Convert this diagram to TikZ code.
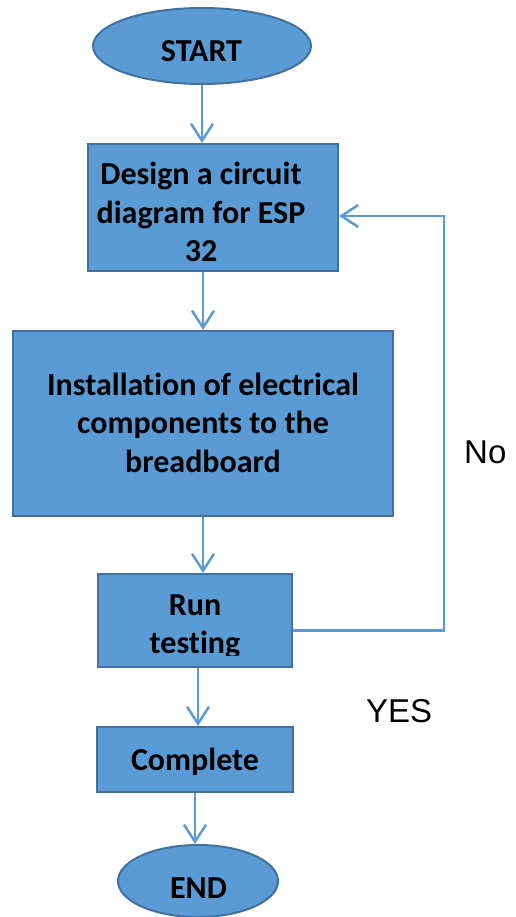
\documentclass[tikz,border=0pt]{standalone}
\usepackage{fontspec}
\setmainfont{Carlito}[Ligatures=CommonOff]
\newfontfamily\arialfont{Liberation Sans}
\usetikzlibrary{shapes.geometric,arrows.meta}
\definecolor{boxfill}{HTML}{5B9BD5}
\definecolor{boxline}{HTML}{41719C}
\definecolor{flowline}{HTML}{5B9BD5}
\tikzset{
  procbox/.style={rectangle, draw=boxline, fill=boxfill, line width=2pt, inner sep=0pt},
  termin/.style={ellipse, draw=boxline, fill=boxfill, line width=2pt, inner sep=0pt},
  boxtext/.style={anchor=base, inner sep=0pt, text=black, font=\fontsize{32}{38}\selectfont\bfseries},
  sidetext/.style={anchor=base west, inner sep=0pt, text=black, font=\arialfont\fontsize{33}{38}\selectfont},
  flow/.style={draw=flowline, line width=2.5pt, -{Straight Barb[length=17pt,width=22pt]}}
}
\begin{document}
\begin{tikzpicture}[x=1pt,y=-1pt]
\useasboundingbox (0,0) rectangle (515,917);

% shapes
\node[termin, minimum width=218pt, minimum height=76pt] (start) at (202,46) {};
\node[procbox, minimum width=250pt, minimum height=127pt] (b1) at (213,207.5) {};
\node[procbox, minimum width=380pt, minimum height=185pt] (b2) at (203,423.5) {};
\node[procbox, minimum width=194pt, minimum height=93pt] (b3) at (195,620.5) {};
\node[procbox, minimum width=196pt, minimum height=65pt] (b4) at (195,759.5) {};
\node[termin, minimum width=160pt, minimum height=72pt] (stop) at (198,881) {};

% texts
\node[boxtext] (tstart) at (201.5,62) {START};
\begin{scope}
  \clip (88,144) rectangle (338,263);
  \node[boxtext] (t1a) at (201,185) {Design a circuit};
  \node[boxtext] (t1b) at (201,223) {diagram for ESP};
  \node[boxtext] (t1c) at (201,261) {32};
\end{scope}
\node[boxtext] (t2a) at (203,395) {Installation of electrical};
\node[boxtext] (t2b) at (203,433) {components to the};
\node[boxtext] (t2c) at (203,472) {breadboard};
\begin{scope}
  \clip (98,574) rectangle (292,655);
  \node[boxtext] (t3a) at (195,615) {Run};
  \node[boxtext] (t3b) at (195,653) {testing};
\end{scope}
\node[boxtext] (t4) at (195,770) {Complete};
\node[boxtext] (tstop) at (198.5,898) {END};

\node[sidetext] (no) at (464,463) {No};
\node[sidetext] (yes) at (366,722) {YES};

% connectors
\draw[flow] (start.south) -- (start.south |- b1.north);
\draw[flow] (b2.north |- b1.south) -- (b2.north);
\draw[flow] (b2.south) -- (b2.south |- b3.north);
\draw[flow] ([xshift=3pt]b3.south) -- ([xshift=3pt]b4.north);
\draw[flow] (b4.south) -- (b4.south |- stop.north);
\coordinate (loopx) at (444,0);
\coordinate (b1in) at ([yshift=-8.5pt]b1.east);
\draw[flow] ([yshift=-10pt]b3.east) -| (loopx |- b1in) -- (b1in);
\end{tikzpicture}
\end{document}
